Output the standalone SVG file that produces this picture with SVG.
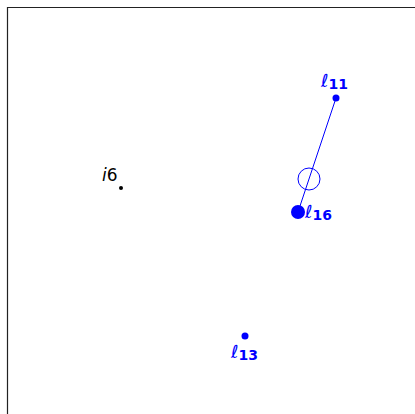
<svg xmlns="http://www.w3.org/2000/svg" width="415" height="414" viewBox="0 0 415 414">
<style>
.lbl{font-family:"DejaVu Sans",sans-serif;font-size:18px;fill:#0000ff}
.sub{font-size:14px;font-weight:bold}
.blue{fill:#0000ff}
</style>
<rect width="415" height="414" fill="#ffffff"/>
<path d="M7.5 414 V7.5 H415" fill="none" stroke="#222" stroke-width="1.2"/>
<g id="connectors">
<line x1="336" y1="98" x2="298" y2="212" stroke="#0000ff" stroke-width="1"/>
<circle cx="309" cy="179" r="11" fill="none" stroke="#0000ff" stroke-width="1"/>
</g>
<g id="l11">
<circle class="blue" cx="336" cy="98" r="3.5"/>
<text class="lbl" x="321" y="87">ℓ<tspan class="sub" dy="2">11</tspan></text>
</g>
<g id="l16">
<circle class="blue" cx="298" cy="212" r="7"/>
<text class="lbl" x="305" y="218">ℓ<tspan class="sub" dy="2">16</tspan></text>
</g>
<g id="l13">
<circle class="blue" cx="245" cy="336" r="3.5"/>
<text class="lbl" x="231" y="358">ℓ<tspan class="sub" dy="2">13</tspan></text>
</g>
<g id="i6">
<circle cx="121" cy="188" r="2" fill="#000"/>
<text x="102" y="181" font-family="DejaVu Sans,sans-serif" font-size="17" fill="#000"><tspan font-style="italic">i</tspan>6</text>
</g>
</svg>
